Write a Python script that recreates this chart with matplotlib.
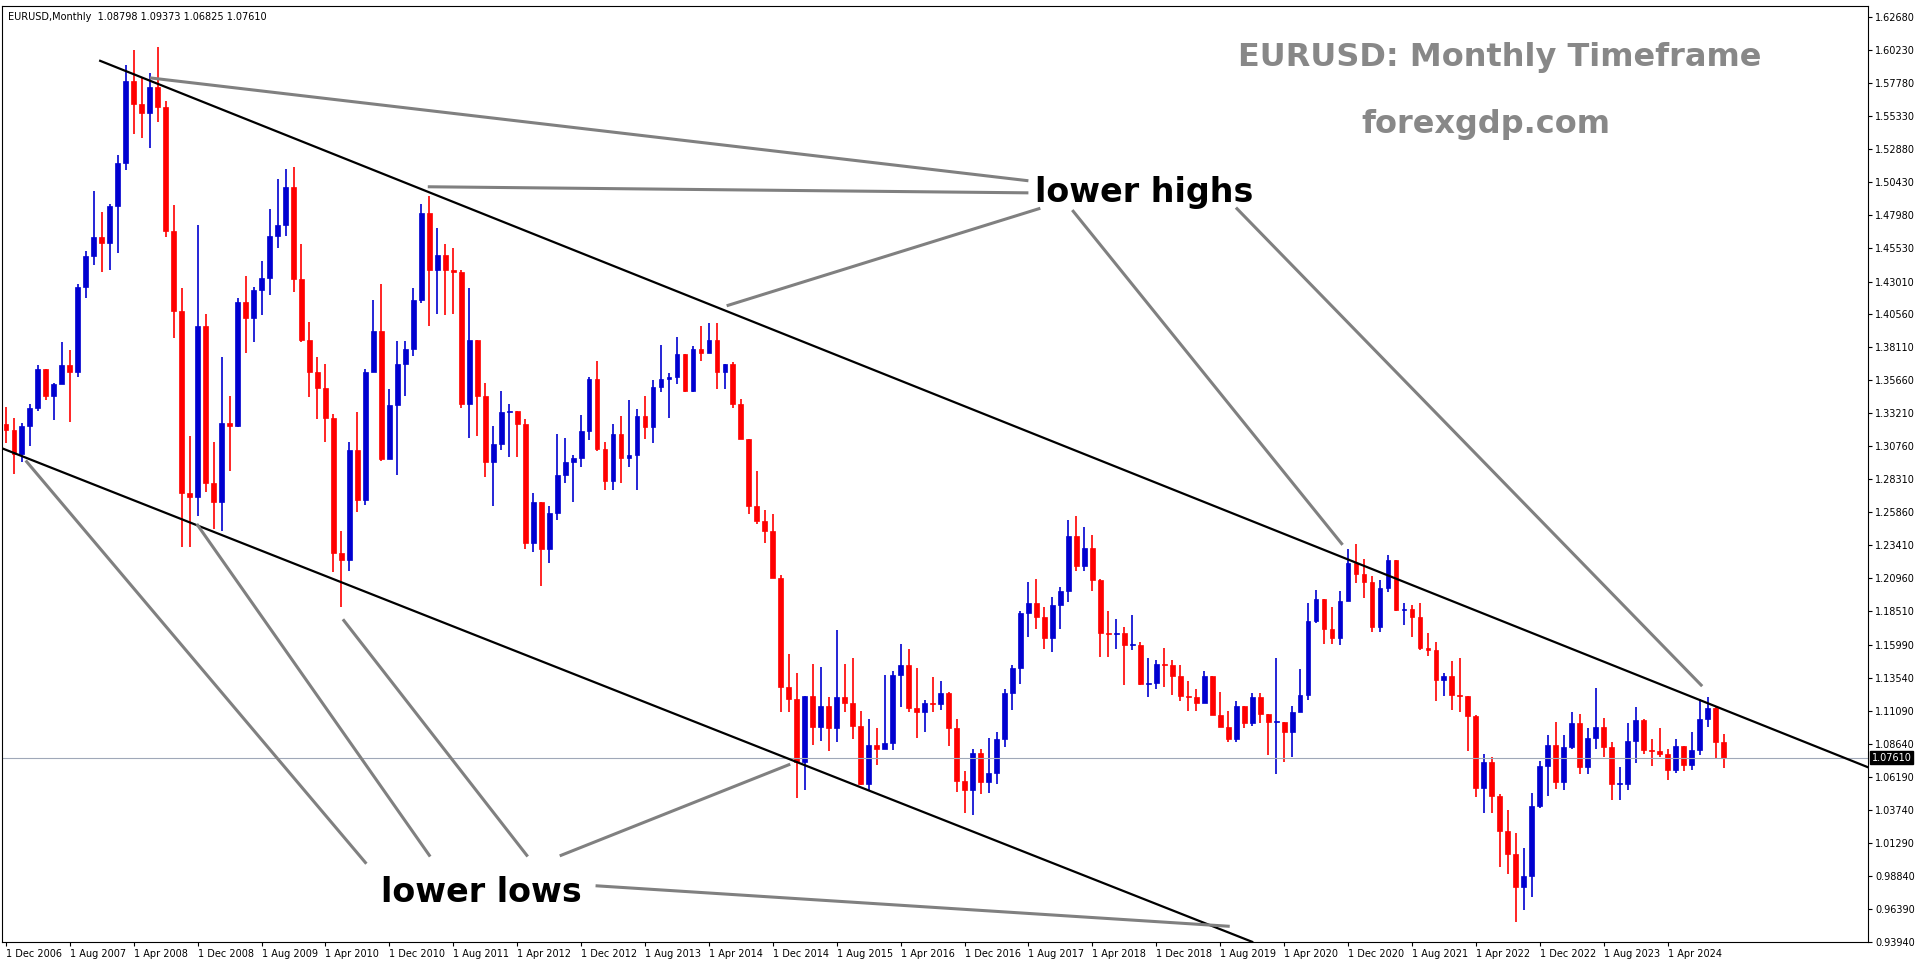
import numpy as np
import pandas as pd
import matplotlib
matplotlib.use("Agg")
import matplotlib.pyplot as plt

# monthly EURUSD, Dec 2006 .. Nov 2024
first_open = 1.3240
closes = [1.3200,
    1.3020,1.3230,1.3360,1.3650,1.3450,1.3540,1.3680,1.3630,1.4260,1.4490,1.4630,1.4590,
    1.4860,1.5180,1.5790,1.5620,1.5550,1.5750,1.5600,1.4680,1.4080,1.2730,1.2700,1.3970,
    1.2800,1.2660,1.3250,1.3230,1.4150,1.4030,1.4240,1.4330,1.4640,1.4720,1.5000,1.4320,
    1.3870,1.3630,1.3510,1.3290,1.2280,1.2230,1.3050,1.2680,1.3630,1.3930,1.2980,1.3380,
    1.3690,1.3800,1.4160,1.4810,1.4390,1.4500,1.4390,1.4370,1.3390,1.3870,1.3450,1.2960,
    1.3090,1.3330,1.3340,1.3240,1.2360,1.2660,1.2310,1.2580,1.2860,1.2960,1.2990,1.3190,
    1.3580,1.3060,1.2820,1.3170,1.2990,1.3010,1.3300,1.3220,1.3520,1.3580,1.3590,1.3760,
    1.3490,1.3800,1.3770,1.3870,1.3630,1.3690,1.3390,1.3130,1.2630,1.2520,1.2450,1.2100,
    1.1290,1.1200,1.0730,1.1220,1.0990,1.1150,1.0980,1.1210,1.1170,1.1000,1.0570,1.0860,
    1.0830,1.0870,1.1380,1.1450,1.1130,1.1100,1.1170,1.1160,1.1240,1.0980,1.0590,1.0520,
    1.0800,1.0580,1.0650,1.0900,1.1240,1.1430,1.1840,1.1910,1.1810,1.1650,1.1900,1.2000,
    1.2410,1.2190,1.2320,1.2080,1.1690,1.1680,1.1690,1.1600,1.1600,1.1310,1.1320,1.1460,
    1.1450,1.1370,1.1220,1.1210,1.1170,1.1370,1.1080,1.0990,1.0900,1.1150,1.1020,1.1210,
    1.1090,1.1030,1.1030,1.0950,1.1100,1.1230,1.1780,1.1940,1.1720,1.1650,1.1930,1.2210,
    1.2130,1.2070,1.1730,1.2020,1.2230,1.1860,1.1870,1.1810,1.1580,1.1560,1.1340,1.1370,
    1.1230,1.1220,1.1070,1.0540,1.0730,1.0480,1.0220,1.0050,0.9800,0.9880,1.0400,1.0700,
    1.0860,1.0580,1.0840,1.1020,1.0690,1.0910,1.0990,1.0840,1.0570,1.0570,1.0890,1.1040,
    1.0820,1.0810,1.0790,1.0670,1.0850,1.0710,1.0820,1.1050,1.1135,1.0880,1.0761]
highs = [1.3370,
    1.3290,1.3250,1.3390,1.3680,1.3620,1.3550,1.3850,1.3790,1.4280,1.4530,1.4970,1.4820,
    1.4880,1.5240,1.5910,1.6020,1.5820,1.5850,1.6040,1.5640,1.4870,1.4250,1.3150,1.4720,
    1.4060,1.3110,1.3740,1.3450,1.4180,1.4340,1.4260,1.4450,1.4840,1.5060,1.5140,1.5150,
    1.4580,1.4000,1.3740,1.3690,1.3320,1.2450,1.3110,1.3330,1.3650,1.4160,1.4280,1.3500,
    1.3860,1.3860,1.4250,1.4880,1.4940,1.4700,1.4580,1.4550,1.4390,1.4250,1.3840,1.3550,
    1.3230,1.3490,1.3390,1.3280,1.3280,1.2730,1.2470,1.2630,1.3170,1.3140,1.3010,1.3310,
    1.3590,1.3710,1.3110,1.3240,1.3300,1.3420,1.3350,1.3450,1.3570,1.3830,1.3620,1.3890,
    1.3740,1.3820,1.3970,1.3990,1.3990,1.3680,1.3700,1.3430,1.3130,1.2890,1.2600,1.2570,
    1.2120,1.1530,1.1390,1.1220,1.1460,1.1440,1.1210,1.1710,1.1460,1.1500,1.1110,1.1050,
    1.0980,1.1380,1.1410,1.1610,1.1570,1.1430,1.1190,1.1360,1.1330,1.1250,1.1050,1.0660,
    1.0830,1.0830,1.0910,1.0950,1.1270,1.1450,1.1850,1.2070,1.2090,1.1880,1.1960,1.2030,
    1.2530,1.2560,1.2480,1.2420,1.2090,1.1850,1.1790,1.1730,1.1820,1.1620,1.1500,1.1490,
    1.1580,1.1490,1.1450,1.1330,1.1270,1.1410,1.1290,1.1250,1.1110,1.1180,1.1110,1.1240,
    1.1240,1.1050,1.1500,1.1020,1.1150,1.1420,1.1910,1.2010,1.1870,1.1880,1.2000,1.2310,
    1.2350,1.2240,1.2110,1.2080,1.2270,1.2220,1.1910,1.1900,1.1910,1.1690,1.1620,1.1390,
    1.1480,1.1500,1.1190,1.1080,1.0790,1.0770,1.0490,1.0370,1.0200,1.0090,1.0500,1.0740,
    1.0930,1.1030,1.0930,1.1100,1.1090,1.0980,1.1280,1.1060,1.0880,1.0690,1.1020,1.1140,
    1.1050,1.0900,1.0980,1.0830,1.0900,1.0850,1.0950,1.1200,1.1210,1.1150,1.0937]
lows = [1.3100,
    1.2870,1.2960,1.3080,1.3340,1.3420,1.3270,1.3540,1.3260,1.3590,1.4180,1.4420,1.4370,
    1.4390,1.4510,1.5130,1.5400,1.5370,1.5290,1.5490,1.4630,1.3880,1.2330,1.2330,1.2560,
    1.2740,1.2460,1.2450,1.2890,1.3220,1.3770,1.3850,1.4050,1.4200,1.4550,1.4640,1.4220,
    1.3850,1.3440,1.3280,1.3110,1.2140,1.1880,1.2150,1.2590,1.2640,1.3690,1.2970,1.3000,
    1.2860,1.3450,1.3750,1.4140,1.3970,1.4060,1.4050,1.4060,1.3360,1.3140,1.3150,1.2850,
    1.2630,1.3050,1.3000,1.3000,1.2310,1.2290,1.2040,1.2210,1.2530,1.2800,1.2660,1.2920,
    1.3120,1.3040,1.2750,1.2750,1.2800,1.2920,1.2750,1.3130,1.3100,1.3480,1.3290,1.3540,
    1.3480,1.3480,1.3710,1.3770,1.3500,1.3500,1.3360,1.3150,1.2570,1.2500,1.2360,1.2100,
    1.1100,1.1100,1.0460,1.0520,1.0860,1.0890,1.0810,1.0880,1.1100,1.0900,1.0560,1.0520,
    1.0710,1.0840,1.0820,1.1140,1.1100,1.0910,1.0950,1.1100,1.1120,1.0850,1.0510,1.0350,
    1.0340,1.0490,1.0500,1.0570,1.0840,1.1120,1.1310,1.1660,1.1720,1.1570,1.1550,1.1720,
    1.1920,1.2150,1.2150,1.2000,1.1510,1.1510,1.1570,1.1300,1.1560,1.1300,1.1210,1.1270,
    1.1290,1.1230,1.1180,1.1110,1.1110,1.1180,1.1110,1.1020,1.0880,1.0880,1.0980,1.1000,
    1.1020,1.0780,1.0640,1.0730,1.0770,1.1170,1.1190,1.1760,1.1610,1.1610,1.1600,1.1930,
    1.2060,1.1950,1.1700,1.1700,1.1990,1.1850,1.1750,1.1660,1.1560,1.1520,1.1180,1.1220,
    1.1120,1.1100,1.0810,1.0470,1.0350,1.0350,0.9950,0.9900,0.9540,0.9630,0.9730,1.0390,
    1.0480,1.0530,1.0520,1.0830,1.0640,1.0640,1.0830,1.0770,1.0450,1.0450,1.0520,1.0720,
    1.0790,1.0700,1.0770,1.0600,1.0650,1.0660,1.0670,1.0780,1.0990,1.0760,1.0683]

y_ticks = [1.62680,1.60230,1.57780,1.55330,1.52880,1.50430,1.47980,1.45530,1.43010,1.40560,
           1.38110,1.35660,1.33210,1.30760,1.28310,1.25860,1.23410,1.20960,1.18510,1.15990,
           1.13540,1.11090,1.08640,1.06190,1.03740,1.01290,0.98840,0.96390,0.93940]
x_labels = ["1 Dec 2006","1 Aug 2007","1 Apr 2008","1 Dec 2008","1 Aug 2009","1 Apr 2010",
            "1 Dec 2010","1 Aug 2011","1 Apr 2012","1 Dec 2012","1 Aug 2013","1 Apr 2014",
            "1 Dec 2014","1 Aug 2015","1 Apr 2016","1 Dec 2016","1 Aug 2017","1 Apr 2018",
            "1 Dec 2018","1 Aug 2019","1 Apr 2020","1 Dec 2020","1 Aug 2021","1 Apr 2022",
            "1 Dec 2022","1 Aug 2023","1 Apr 2024"]
last_price = 1.07610

# trend lines: (month index, price)
upper_line = [(11.8, 1.5941), (233.1, 1.0691)]
lower_line = [(-0.5, 1.3062), (156.0, 0.9394)]
# pointer lines for labels
high_ptrs = [((18.2, 1.5813), (127.8, 1.5051)), ((53.0, 1.5005), (127.8, 1.4960)),
             ((90.4, 1.4124), (129.3, 1.4842)), ((133.6, 1.4823), (167.2, 1.2353)),
             ((154.1, 1.4842), (212.2, 1.1302))]
low_ptrs = [((2.6, 1.2962), (45.0, 0.9983)), ((24.0, 1.2490), (53.0, 1.0037)),
            ((42.3, 1.1782), (65.2, 1.0037)), ((69.5, 1.0037), (98.0, 1.0710)),
            ((74.0, 0.9810), (153.0, 0.9510))]

opens = [first_open] + closes[:-1]
n = len(closes)
x = np.arange(n)

fig = plt.figure(figsize=(19.16, 9.64), dpi=100)
ax = fig.add_axes([0.001, 0.023, 0.974, 0.971])

for i in range(n):
    o, c = opens[i], closes[i]
    h, l = max(highs[i], o, c), min(lows[i], o, c)
    col = "#0000d0" if c >= o else "#ff0000"
    ax.vlines(i, l, h, color=col, lw=1.2)
    body = max(abs(c - o), 0.0008)
    ax.bar(i, body, bottom=min(o, c), width=0.6, color=col, edgecolor=col, lw=0.5)

ax.axhline(last_price, color="#a0a8b8", lw=0.8)
(x0, y0), (x1, y1) = upper_line
ax.plot([x0, x1], [y0, y1], color="black", lw=1.6)
(x0, y0), (x1, y1) = lower_line
ax.plot([x0, x1], [y0, y1], color="black", lw=1.6)
for a, b in high_ptrs + low_ptrs:
    ax.plot([a[0], b[0]], [a[1], b[1]], color="#808080", lw=2.2)

ax.text(128.8, 1.4960, "lower highs", fontsize=24, fontweight="bold", color="black",
        va="center", ha="left")
ax.text(47.0, 0.9760, "lower lows", fontsize=24, fontweight="bold", color="black",
        va="center", ha="left")
ax.text(0.943, 0.945, "EURUSD: Monthly Timeframe", transform=ax.transAxes, fontsize=23,
        fontweight="bold", color="#888888", ha="right", va="center")
ax.text(0.862, 0.873, "forexgdp.com", transform=ax.transAxes, fontsize=23,
        fontweight="bold", color="#888888", ha="right", va="center")
ax.text(0.003, 0.993, "EURUSD,Monthly  1.08798 1.09373 1.06825 1.07610", transform=ax.transAxes,
        fontsize=7, color="black", ha="left", va="top")

ax.set_xlim(-0.5, 233.1)
ax.set_ylim(0.9394, 1.6350)
ax.yaxis.tick_right()
ax.set_yticks(y_ticks)
ax.set_yticklabels([f"{v:.5f}" for v in y_ticks], fontsize=7)
ax.set_xticks(np.arange(len(x_labels)) * 8)
ax.set_xticklabels(x_labels, fontsize=7, ha="left")
ax.tick_params(axis="both", length=3, pad=2)
ax.text(1.002, last_price, f"{last_price:.5f}", transform=ax.get_yaxis_transform(),
        fontsize=7, color="white", va="center", ha="left",
        bbox=dict(boxstyle="square,pad=0.15", fc="black", ec="black"))
for s in ["top", "left"]:
    ax.spines[s].set_linewidth(0.8)

fig.savefig("out.png", dpi=100)
